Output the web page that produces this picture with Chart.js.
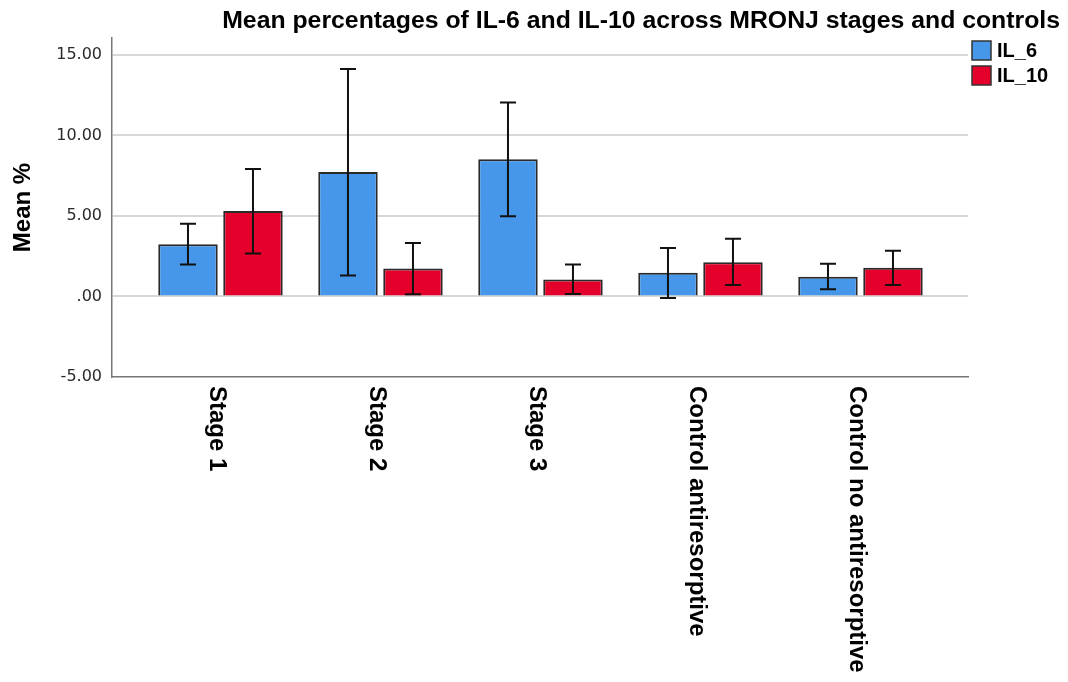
<!DOCTYPE html>
<html>
<head>
<meta charset="utf-8">
<script src="https://cdn.jsdelivr.net/npm/chart.js@4/dist/chart.umd.min.js"></script>
<style>
  html, body { margin: 0; padding: 0; background: #fff; }
  #wrap { width: 1068px; height: 682px; }
</style>
</head>
<body>
<div id="wrap"><canvas id="chart" width="1068" height="682"></canvas></div>
<script>
// data
const categories = ["Stage 1", "Stage 2", "Stage 3", "Control antiresorptive", "Control no antiresorptive"];
const il6Mean = [3.25, 7.73, 8.52, 1.47, 1.22];
const il6Low  = [1.99, 1.31, 4.98, -0.09, 0.45];
const il6High = [4.52, 14.12, 12.04, 3.01, 2.03];
const il10Mean = [5.30, 1.73, 1.06, 2.13, 1.78];
const il10Low  = [2.67, 0.14, 0.16, 0.72, 0.72];
const il10High = [7.92, 3.32, 1.99, 3.58, 2.84];
const yTicks = [-5, 0, 5, 10, 15];

const titleText = "Mean percentages of IL-6 and IL-10 across MRONJ stages and controls";
const boldFont = "'Liberation Sans', Arial, Helvetica, sans-serif";

const errorBars = [[il6Low, il6High], [il10Low, il10High]];

// error bars drawn from the bar elements + y scale
const errorBarPlugin = {
    id: 'errorBars',
    afterDatasetsDraw(chart) {
        const ctx = chart.ctx;
        const y = chart.scales.y;
        ctx.save();
        ctx.strokeStyle = '#111';
        ctx.lineWidth = 2;
        chart.data.datasets.forEach((ds, d) => {
            chart.getDatasetMeta(d).data.forEach((bar, i) => {
                const lo = y.getPixelForValue(errorBars[d][0][i]);
                const hi = y.getPixelForValue(errorBars[d][1][i]);
                ctx.beginPath();
                ctx.moveTo(bar.x, lo); ctx.lineTo(bar.x, hi);
                ctx.moveTo(bar.x - 8, lo); ctx.lineTo(bar.x + 8, lo);
                ctx.moveTo(bar.x - 8, hi); ctx.lineTo(bar.x + 8, hi);
                ctx.stroke();
            });
        });
        ctx.restore();
    }
};

// title, legend and rotated category labels
const decorPlugin = {
    id: 'decor',
    afterDraw(chart) {
        const ctx = chart.ctx;
        const area = chart.chartArea;
        const x = chart.scales.x;
        ctx.save();
        ctx.fillStyle = '#000';
        ctx.font = "bold 24.8px " + boldFont;
        ctx.textAlign = 'right';
        ctx.textBaseline = 'alphabetic';
        ctx.fillText(titleText, chart.width - 8, 28);

        // legend
        ctx.font = "bold 20px " + boldFont;
        ctx.textAlign = 'left';
        ctx.textBaseline = 'middle';
        chart.data.datasets.forEach((ds, i) => {
            const lx = area.right + 4, ly = 41 + i * 25;
            ctx.fillStyle = ds.backgroundColor;
            ctx.fillRect(lx, ly, 19, 19);
            ctx.strokeStyle = '#333';
            ctx.lineWidth = 1.5;
            ctx.strokeRect(lx, ly, 19, 19);
            ctx.fillStyle = '#000';
            ctx.fillText(ds.label, lx + 25, ly + 10);
        });

        // category labels, reading top to bottom
        ctx.font = "bold 24px " + boldFont;
        categories.forEach((c, i) => {
            ctx.save();
            ctx.translate(x.getPixelForValue(i + 1) - 4, area.bottom + 9);
            ctx.rotate(Math.PI / 2);
            ctx.textAlign = 'left';
            ctx.textBaseline = 'middle';
            ctx.fillText(c, 0, 0);
            ctx.restore();
        });
        ctx.restore();
    }
};

new Chart(document.getElementById('chart'), {
    type: 'bar',
    data: {
        datasets: [
            {
                label: 'IL_6',
                data: categories.map((c, i) => ({ x: i + 1, y: il6Mean[i] })),
                backgroundColor: '#4697e9',
                borderColor: '#2a2a2a',
                borderWidth: 2
            },
            {
                label: 'IL_10',
                data: categories.map((c, i) => ({ x: i + 1, y: il10Mean[i] })),
                backgroundColor: '#e4002b',
                borderColor: '#2a2a2a',
                borderWidth: 2
            }
        ]
    },
    options: {
        responsive: false,
        animation: false,
        layout: { padding: { top: 38, right: 100, left: 0, bottom: 0 } },
        categoryPercentage: 0.8125,
        barPercentage: 0.915,
        plugins: {
            legend: { display: false },
            title: { display: false },
            tooltip: { enabled: false }
        },
        scales: {
            x: {
                type: 'linear',
                min: 0.322,
                max: 5.672,
                offset: false,
                ticks: { display: false, stepSize: 1, includeBounds: false },
                grid: { display: false },
                border: { color: '#777', width: 1.5 },
                afterFit: s => { s.height = 305; }
            },
            y: {
                min: -5,
                max: 16.05,
                afterBuildTicks: s => { s.ticks = yTicks.map(v => ({ value: v })); },
                ticks: {
                    padding: 10,
                    color: '#2a2a2a',
                    font: { family: "'DejaVu Sans', sans-serif", size: 16 },
                    callback: v => v === 0 ? '.00' : v.toFixed(2)
                },
                grid: {
                    drawTicks: false,
                    color: c => c.tick && c.tick.value === -5 ? 'rgba(0,0,0,0)' : '#d8d8d8',
                    lineWidth: 2
                },
                border: { color: '#777', width: 1.5 },
                title: {
                    display: true,
                    text: 'Mean %',
                    color: '#000',
                    padding: { top: 9, bottom: 0 },
                    font: { family: boldFont, size: 24, weight: 'bold' }
                },
                afterFit: s => { s.width = 112; }
            }
        }
    },
    plugins: [errorBarPlugin, decorPlugin]
});
</script>
</body>
</html>
